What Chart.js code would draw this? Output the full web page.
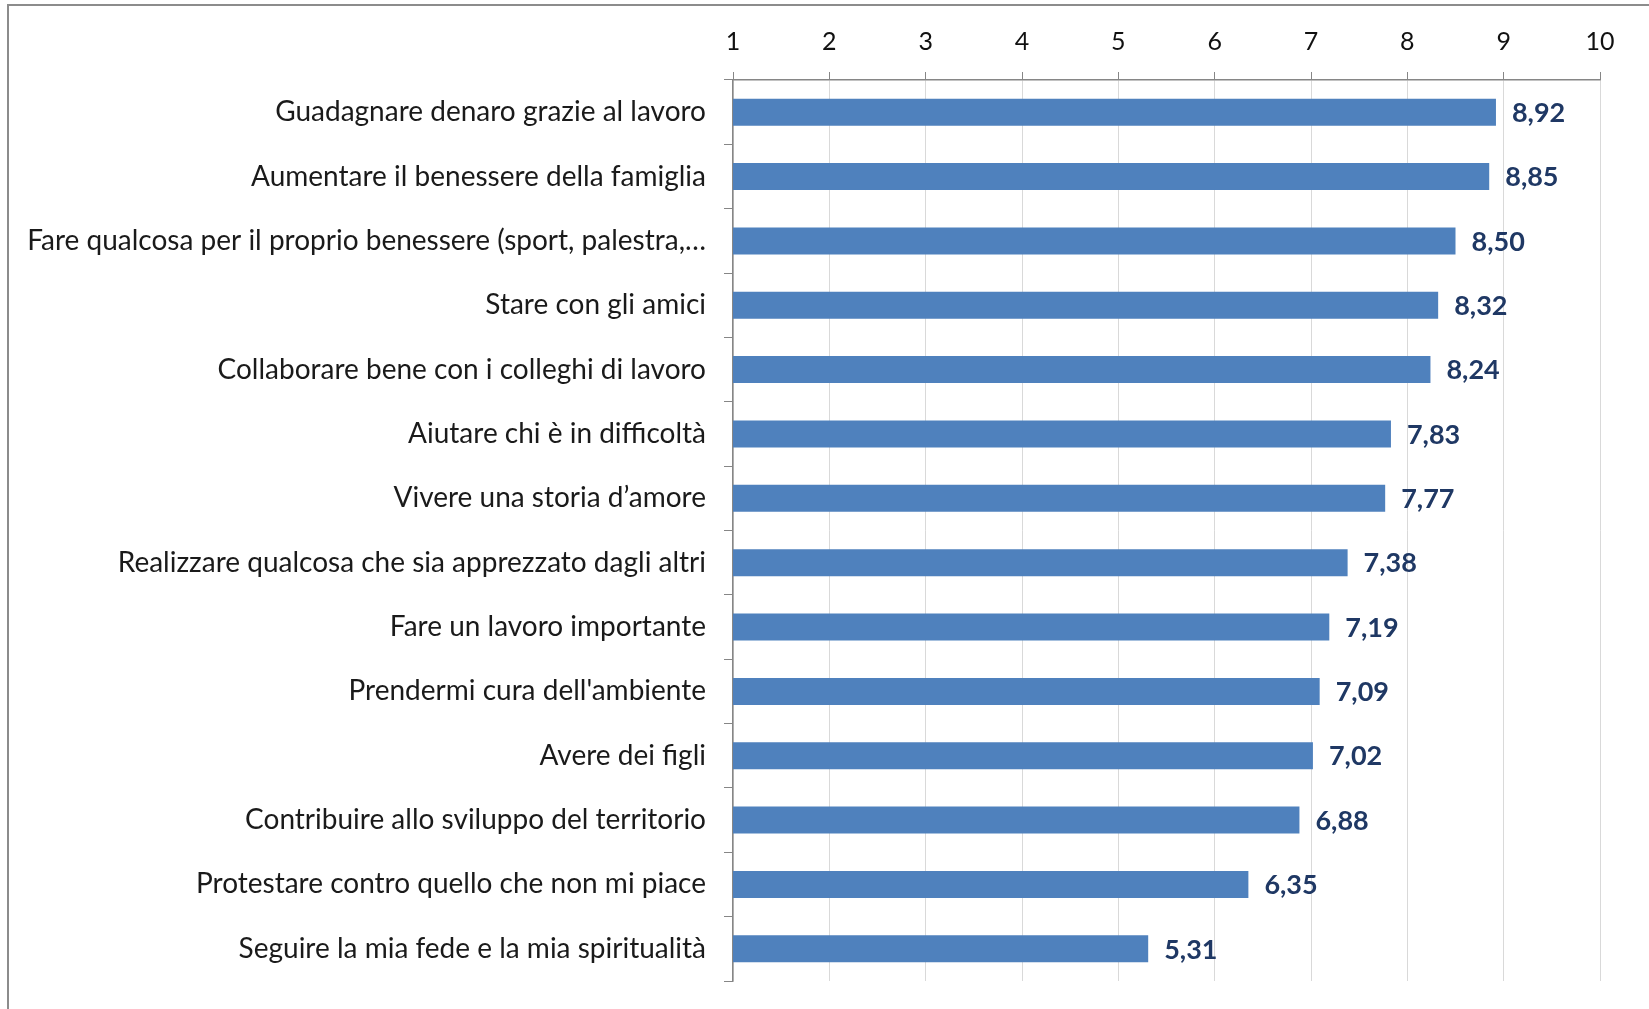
<!DOCTYPE html>
<html>
<head>
<meta charset="utf-8">
<script src="https://cdn.jsdelivr.net/npm/chart.js@4/dist/chart.umd.min.js"></script>
<style>
  html, body { margin: 0; padding: 0; background: #fff; }
  #wrap { width: 1649px; height: 1009px; position: relative; }
</style>
</head>
<body>
<div id="wrap"><canvas id="bars"></canvas></div>
<script>
const categories = [
  "Guadagnare denaro grazie al lavoro",
  "Aumentare il benessere della famiglia",
  "Fare qualcosa per il proprio benessere (sport, palestra,…",
  "Stare con gli amici",
  "Collaborare bene con i colleghi di lavoro",
  "Aiutare chi è in difficoltà",
  "Vivere una storia d’amore",
  "Realizzare qualcosa che sia apprezzato dagli altri",
  "Fare un lavoro importante",
  "Prendermi cura dell'ambiente",
  "Avere dei figli",
  "Contribuire allo sviluppo del territorio",
  "Protestare contro quello che non mi piace",
  "Seguire la mia fede e la mia spiritualità",
];
const scores = [8.92, 8.85, 8.50, 8.32, 8.24, 7.83, 7.77, 7.38, 7.19, 7.09, 7.02, 6.88, 6.35, 5.31];
const axisMin = 1;
const axisMax = 10;

const fontFamily = "Lato, 'Open Sans', sans-serif";

// value labels at the end of each bar
const valueLabels = {
  id: "valueLabels",
  afterDatasetsDraw(chart) {
    const ctx = chart.ctx;
    const meta = chart.getDatasetMeta(0);
    ctx.save();
    ctx.font = "bold 27px " + fontFamily;
    ctx.fillStyle = "#1f3864";
    ctx.textAlign = "left";
    ctx.textBaseline = "middle";
    meta.data.forEach((bar, i) => {
      ctx.fillText(scores[i].toFixed(2).replace(".", ","), bar.x + 16, bar.y + 1);
    });
    ctx.restore();
  },
};

// grey frame of the picture (top and left edges)
const frame = {
  id: "frame",
  beforeDraw(chart) {
    const ctx = chart.ctx;
    ctx.save();
    ctx.fillStyle = "#fff";
    ctx.fillRect(0, 0, chart.width, chart.height);
    ctx.strokeStyle = "#8c8c8c";
    ctx.lineWidth = 2;
    ctx.beginPath();
    ctx.moveTo(8, chart.height);
    ctx.lineTo(8, 5);
    ctx.lineTo(chart.width, 5);
    ctx.stroke();
    ctx.restore();
  },
};

const ctx = document.getElementById("bars").getContext("2d");
let scoreChart = new Chart(ctx, {
  type: "bar",
  data: {
    labels: categories,
    datasets: [
      {
        label: "Punteggio",
        data: scores,
        backgroundColor: "#4f81bd",
        barPercentage: 0.84,
        categoryPercentage: 0.5,
      },
    ],
  },
  options: {
    indexAxis: "y",
    responsive: true,
    maintainAspectRatio: false,
    animation: false,
    layout: {
      padding: { left: 0, right: 49, top: 0, bottom: 28 },
    },
    plugins: {
      legend: { display: false },
      tooltip: { enabled: false },
    },
    scales: {
      x: {
        position: "top",
        min: axisMin,
        max: axisMax,
        ticks: {
          stepSize: 1,
          color: "#111",
          padding: 15,
          font: { family: fontFamily, size: 25 },
        },
        grid: {
          color: "#d9d9d9",
          tickColor: "#868686",
          tickLength: 8,
        },
        border: { color: "#868686", width: 1.5 },
        afterFit(scale) {
          scale.height = 80;
          scale.paddingLeft = 0;
          scale.paddingRight = 0;
        },
      },
      y: {
        ticks: {
          color: "#1a1a1a",
          padding: 18,
          font: { family: fontFamily, size: 28 },
        },
        grid: {
          drawOnChartArea: false,
          tickColor: "#868686",
          tickLength: 9,
          offset: true,
        },
        border: { color: "#868686", width: 1.5 },
        afterFit(scale) {
          scale.width = 733;
          scale.paddingTop = 0;
          scale.paddingBottom = 0;
        },
      },
    },
  },
  plugins: [frame, valueLabels],
});
</script>
</body>
</html>
